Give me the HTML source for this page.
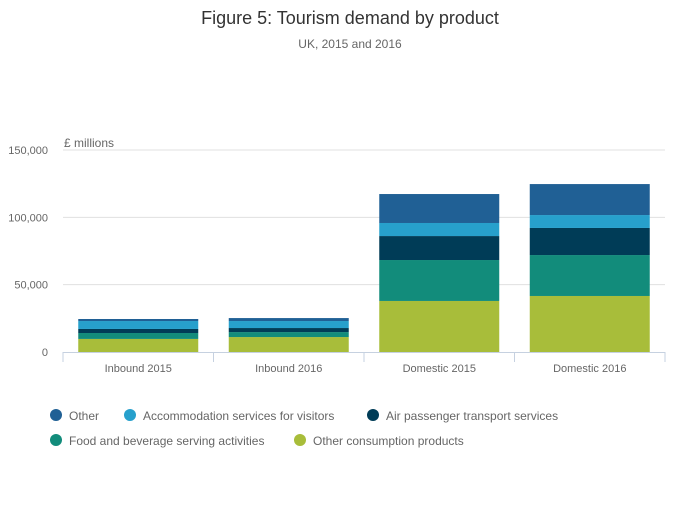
<!DOCTYPE html>
<html><head><meta charset="utf-8"><style>
body{margin:0;background:#fff;font-family:"Liberation Sans",sans-serif}
svg text{font-family:"Liberation Sans",sans-serif}
</style></head><body>
<svg id="c" width="700" height="502">
<text x="350" y="24" text-anchor="middle" font-size="18" fill="#333">Figure 5: Tourism demand by product</text>
<text x="350" y="48" text-anchor="middle" font-size="12" fill="#666">UK, 2015 and 2016</text>
<text x="64" y="147" font-size="12" fill="#666">£ millions</text>
<g id="grid"></g><g id="bars"></g><g id="axis"></g><g id="legend"></g>
</svg>
<script>
const categories=["Inbound 2015","Inbound 2016","Domestic 2015","Domestic 2016"];
const seriesNames=["Other consumption products","Food and beverage serving activities","Air passenger transport services","Accommodation services for visitors","Other"];
const otherConsumption=[9.7,11.1,37.9,41.6];
const foodBeverage=[4.4,3.7,30.4,30.4];
const airPassenger=[3.0,3.0,17.8,20.1];
const accommodation=[5.9,5.2,9.7,9.6];
const other=[1.5,2.2,21.5,23.0];
const yTicks=[0,50000,100000,150000];
const yTickLabels=["0","50,000","100,000","150,000"];
const colors=["#a8bd3a","#128c7b","#003c57","#27a0cc","#206095"];
const series=[otherConsumption,foodBeverage,airPassenger,accommodation,other];
const NS="http://www.w3.org/2000/svg";
const x0=63,x1=665,y0=352,yTop=150,yMax=150000;
const y=v=>y0-(v/yMax)*(y0-yTop);
const bw=(x1-x0)/categories.length;
function mk(t,a,p){const e=document.createElementNS(NS,t);for(const k in a)e.setAttribute(k,a[k]);p.appendChild(e);return e;}
const grid=document.getElementById('grid');
yTicks.forEach((v,i)=>{
 if(i>0){const l=mk('line',{x1:x0,x2:x1,y1:y(v),y2:y(v),stroke:'#e0e0e0'},grid);
 
 }
 const t=mk('text',{x:48,y:y(v)+4,'text-anchor':'end','font-size':11,fill:'#666'},grid);t.textContent=yTickLabels[i];
 
 
});
const bars=document.getElementById('bars');
categories.forEach((c,i)=>{
 let cum=0;const cx=x0+bw*(i+0.5);
 series.forEach((s,j)=>{
  const v=s[i]*1000;
  const r=mk('rect',{x:cx-60,width:120,y:y(cum+v),height:y(cum)-y(cum+v),fill:colors[j]},bars);
  
  
  cum+=v;
 });
});
const ax=document.getElementById('axis');
const base=mk('line',{x1:x0,x2:x1,y1:y0+0.5,y2:y0+0.5,stroke:'#c6d1e0'},ax);


for(let i=0;i<=categories.length;i++){const t=mk('line',{x1:x0+bw*i,x2:x0+bw*i,y1:y0,y2:y0+10,stroke:'#c6d1e0'},ax);
 
 }
categories.forEach((c,i)=>{const t=mk('text',{x:x0+bw*(i+0.5),y:372,'text-anchor':'middle','font-size':11,fill:'#666'},ax);t.textContent=c;
 
 });
const lg=document.getElementById('legend');
const items=[[4,56,416],[3,130,416],[2,373,416],[1,56,441],[0,300,441]];
items.forEach(([j,lx,ly])=>{
 const g=mk('g',{},lg);
 
 
 mk('circle',{cx:lx,cy:ly-1,r:6,fill:colors[j]},g);
 const t=mk('text',{x:lx+13,y:ly+4,'font-size':12,fill:'#666'},g);t.textContent=seriesNames[j];
});
</script>
</body></html>
